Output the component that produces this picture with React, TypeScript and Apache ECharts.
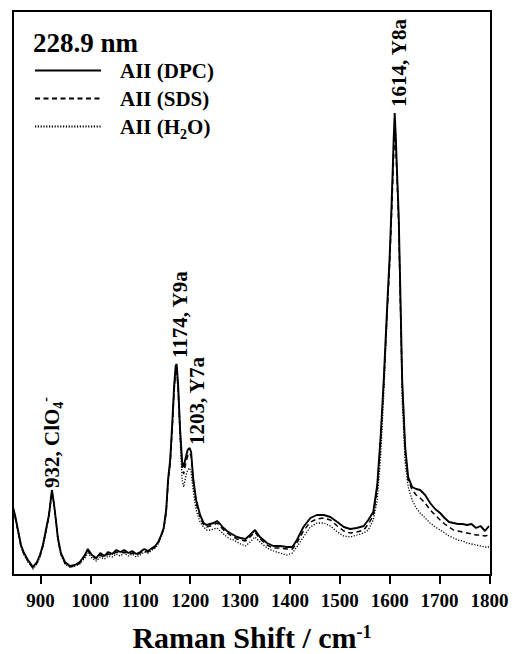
import { useEffect, useRef } from "react";
import * as echarts from "echarts";

// Raman shift sampling (cm^-1), shared by all three spectra
const wavenumbers = [
  845, 849, 855, 861, 867, 875, 885, 893, 899, 905,
  911, 917, 923, 927, 931, 935, 941, 949, 959, 969,
  979, 989, 995, 1003, 1012, 1020, 1028, 1036, 1044, 1052,
  1060, 1068, 1076, 1084, 1092, 1100, 1108, 1116, 1124, 1130,
  1136, 1142, 1147, 1152, 1156, 1160, 1164, 1168, 1171, 1173,
  1176, 1180, 1184, 1187, 1191, 1195, 1199, 1202, 1206, 1212,
  1220, 1227, 1233, 1240, 1247, 1254, 1260, 1267, 1274, 1280,
  1287, 1294, 1301, 1311, 1320, 1330, 1340, 1354, 1367, 1380,
  1394, 1405, 1414, 1427, 1441, 1454, 1468, 1481, 1495, 1508,
  1521, 1534, 1548, 1557, 1567, 1575, 1582, 1588, 1595, 1600,
  1603, 1606, 1608, 1610, 1612, 1614, 1616, 1618, 1621, 1625,
  1631, 1637, 1645, 1653, 1661, 1671, 1681, 1691, 1701, 1710,
  1719, 1728, 1737, 1746, 1755, 1764, 1773, 1782, 1791, 1799,
];

// Intensities (arb. units)
const dpc = [
  68, 60, 45, 30, 22, 15, 8, 13, 20, 30,
  45, 60, 85, 72, 55, 37, 22, 13, 9, 10,
  13, 20, 26, 20, 17, 22, 19, 23, 21, 25,
  23, 25, 22, 24, 21, 23, 26, 24, 27, 29,
  33, 40, 47, 65, 97, 115, 150, 190, 209, 211,
  190, 145, 113, 108, 117, 125, 127, 123, 97, 75,
  60, 52, 50, 51, 52, 54, 51, 47, 44, 42,
  40, 38, 37, 36, 40, 45, 38, 32, 29, 29,
  28, 28, 35, 48, 57, 60, 60, 58, 53, 48,
  46, 47, 49, 55, 63, 90, 140, 195, 270, 320,
  360, 405, 437, 462, 440, 412, 386, 360, 290, 195,
  128, 98, 88, 86, 85, 80, 72, 66, 62, 57,
  53, 52, 51, 51, 50, 51, 47, 49, 44, 49,
];

const sds = [
  67, 59, 44, 29, 21, 14, 7, 12, 19, 29,
  44, 59, 83, 71, 54, 36, 21, 12, 8, 9,
  12, 19, 24, 19, 16, 20, 18, 21, 20, 23,
  22, 23, 21, 22, 20, 22, 24, 23, 26, 28,
  32, 39, 46, 63, 94, 112, 146, 185, 205, 207,
  186, 140, 107, 101, 111, 119, 122, 119, 95, 72,
  58, 50, 48, 49, 50, 52, 49, 45, 42, 40,
  38, 36, 35, 34, 38, 43, 36, 30, 27, 27,
  26, 26, 32, 44, 53, 56, 57, 55, 49, 44,
  42, 43, 45, 51, 59, 86, 135, 190, 265, 312,
  350, 392, 420, 440, 432, 405, 378, 352, 282, 190,
  123, 95, 85, 80, 77, 72, 65, 60, 55, 51,
  48, 45, 44, 43, 42, 41, 40, 40, 39, 40,
];

const h2o = [
  67, 58, 43, 28, 20, 13, 6, 11, 18, 28,
  43, 58, 82, 70, 53, 35, 20, 11, 8, 9,
  11, 17, 22, 17, 14, 18, 16, 19, 18, 21,
  19, 22, 19, 21, 18, 20, 23, 22, 25, 27,
  31, 38, 45, 63, 93, 110, 145, 183, 201, 203,
  183, 135, 95, 88, 98, 105, 107, 103, 85, 65,
  53, 48, 45, 45, 46, 47, 44, 41, 38, 36,
  35, 33, 31, 29, 33, 38, 33, 27, 24, 22,
  20, 22, 28, 38, 48, 52, 52, 49, 43, 39,
  38, 40, 42, 45, 55, 75, 120, 180, 260, 313,
  355, 400, 430, 452, 440, 408, 380, 350, 278, 175,
  112, 88, 75, 67, 62, 57, 52, 48, 45, 42,
  39, 37, 35, 34, 32, 31, 30, 29, 28, 28,
];

const xTicks = [900, 1000, 1100, 1200, 1300, 1400, 1500, 1600, 1700, 1800];
const excitation = "228.9 nm";
const seriesNames = ["AII (DPC)", "AII (SDS)", "AII (H2O)"];

// Band assignments: label text and the wavenumber window holding the peak
const bands = [
  { label: "932, ClO{sub|4}{sup|-}", from: 900, to: 960 },
  { label: "1174, Y9a", from: 1150, to: 1185 },
  { label: "1203, Y7a", from: 1190, to: 1215 },
  { label: "1614, Y8a", from: 1580, to: 1650 },
];

const FONT = '"Liberation Serif", "Times New Roman", Times, serif';

// small offsets (px) of each band label from its peak top
const labelNudge: [number, number][] = [
  [0, -2],
  [3, -6],
  [7, -3],
  [4, -6],
];

export default function App() {
  const ref = useRef<HTMLDivElement>(null);

  useEffect(() => {
    document.body.style.margin = "0";
    const chart = echarts.init(ref.current!, null, { renderer: "svg" });
    const values = [dpc, sds, h2o];
    const lineStyles: any[] = [
      { width: 1.9, type: "solid", z: 4 },
      { width: 1.5, type: [5, 3.5], z: 3 },
      { width: 1.3, type: [1.2, 1.6], z: 2 },
    ];

    chart.setOption({
      animation: false,
      title: {
        text: excitation,
        left: 33,
        top: 29,
        padding: 0,
        textStyle: { fontFamily: FONT, fontWeight: "bold", fontSize: 27, color: "#000" },
      },
      legend: {
        orient: "vertical",
        left: 34,
        top: 60,
        padding: 0,
        itemWidth: 66,
        itemHeight: 14,
        itemGap: 7,
        selectedMode: false,
        data: seriesNames,
        itemStyle: { opacity: 0 },
        formatter: (n: string) => n.replace("H2O", "H{sub|2}O"),
        textStyle: {
          fontFamily: FONT,
          fontWeight: "bold",
          fontSize: 21,
          lineHeight: 21,
          color: "#000",
          padding: [0, 0, 0, 14],
          rich: {
            sub: {
              fontFamily: FONT,
              fontWeight: "bold",
              fontSize: 14,
              color: "#000",
              padding: [15, 0, 0, 0],
            },
          },
        },
      },
      grid: {
        left: 13,
        right: 22,
        top: 11,
        bottom: 79,
        show: true,
        borderColor: "#000",
        borderWidth: 2,
        backgroundColor: "transparent",
        containLabel: false,
        outerBoundsMode: "none",
      },
      xAxis: {
        type: "value",
        min: 845,
        max: 1803,
        axisLine: { show: true, onZero: false, lineStyle: { color: "#000", width: 2 } },
        axisTick: {
          show: true,
          inside: false,
          length: 9,
          customValues: xTicks,
          lineStyle: { color: "#000", width: 2 },
        },
        axisLabel: {
          customValues: xTicks,
          formatter: (v: number) => String(v),
          fontFamily: FONT,
          fontWeight: "bold",
          fontSize: 19,
          color: "#000",
          margin: 16,
        },
        splitLine: { show: false },
        name: "Raman Shift / cm{sup|-1}",
        nameLocation: "middle",
        nameGap: 47,
        nameTextStyle: {
          fontFamily: FONT,
          fontWeight: "bold",
          fontSize: 30,
          color: "#000",
          rich: {
            sup: {
              fontFamily: FONT,
              fontWeight: "bold",
              fontSize: 18,
              color: "#000",
              padding: [0, 0, 10, 0],
            },
          },
        },
      },
      yAxis: { type: "value", min: 0, max: 564, show: false },
      series: seriesNames.map((name, k) => ({
        type: "line",
        name,
        data: wavenumbers.map((x, i) => [x, values[k][i]]),
        symbol: "none",
        showSymbol: false,
        silent: true,
        z: lineStyles[k].z,
        itemStyle: { color: "#000" },
        lineStyle: { color: "#000", width: lineStyles[k].width, type: lineStyles[k].type },
        emphasis: { disabled: true },
      })),
    });

    // band labels, standing vertically on their peaks
    const graphic = bands.map((b, i) => {
      let best = -1;
      wavenumbers.forEach((x, j) => {
        if (x >= b.from && x <= b.to && (best < 0 || dpc[j] > dpc[best])) best = j;
      });
      const [px, py] = chart.convertToPixel({ seriesIndex: 0 }, [wavenumbers[best], dpc[best]]) as number[];
      const [dx, dy] = labelNudge[i];
      return {
        type: "text",
        x: px + dx,
        y: py + dy,
        rotation: Math.PI / 2,
        silent: true,
        style: {
          text: b.label,
          fill: "#000",
          fontFamily: FONT,
          fontWeight: "bold",
          fontSize: 21,
          align: "left",
          verticalAlign: "middle",
          rich: {
            sub: { fontFamily: FONT, fontWeight: "bold", fontSize: 14, fill: "#000", padding: [14, 0, 0, 0] },
            sup: { fontFamily: FONT, fontWeight: "bold", fontSize: 14, fill: "#000", padding: [0, 0, 12, 0] },
          },
        },
      };
    });
    chart.setOption({ graphic });

    return () => chart.dispose();
  }, []);

  return (
    <div
      ref={ref}
      style={{ position: "absolute", left: 0, top: 0, width: 513, height: 654 }}
    />
  );
}
